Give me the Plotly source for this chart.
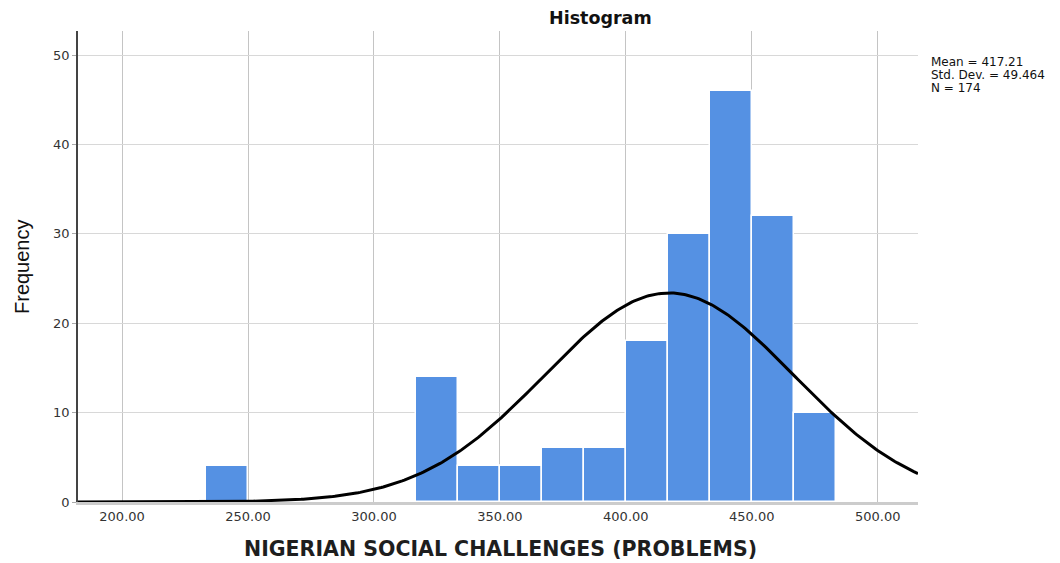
import numpy as np
import plotly.graph_objects as go

# Data
bin_width = 16.6667
bin_centers = [241.67, 325.00, 341.67, 358.33, 375.00, 391.67, 408.33, 425.00, 441.67, 458.33, 475.00]
counts = [4, 14, 4, 4, 6, 6, 18, 30, 46, 32, 10]
mean_val = 417.21
std_val = 49.464
n_val = 174
x_ticks = [200, 250, 300, 350, 400, 450, 500]
x_tick_labels = ["200.00", "250.00", "300.00", "350.00", "400.00", "450.00", "500.00"]
y_ticks = [0, 10, 20, 30, 40, 50]
stats_lines = ["Mean = 417.21", "Std. Dev. = 49.464", "N = 174"]

x_range = [182.5, 516.0]

xs = np.linspace(x_range[0], x_range[1], 400)
ys = n_val * bin_width * np.exp(-0.5 * ((xs - mean_val) / std_val) ** 2) / (std_val * np.sqrt(2 * np.pi))

ML, MR, MT, MB = 78, 142, 31, 61
W, H = 1060, 563
plot_w = W - ML - MR
plot_h = H - MT - MB

def px_x(px):
    return (px - ML) / plot_w

def px_y(py):
    return (H - MB - py) / plot_h

fig = go.Figure()
fig.add_trace(go.Bar(
    x=bin_centers, y=counts, width=[bin_width] * len(bin_centers),
    marker=dict(color="#5591e3", line=dict(color="white", width=1.5)),
    showlegend=False, hoverinfo="skip",
))
fig.add_trace(go.Scatter(
    x=xs, y=ys, mode="lines", line=dict(color="black", width=3),
    showlegend=False, hoverinfo="skip",
))

annotations = [
    dict(text="<b>Histogram</b>", x=px_x(600), y=px_y(18), xref="paper", yref="paper",
         xanchor="center", yanchor="middle", showarrow=False,
         font=dict(family="DejaVu Sans", size=17.5, color="#111111")),
    dict(text="Frequency", x=px_x(22), y=px_y(267), xref="paper", yref="paper",
         xanchor="center", yanchor="middle", showarrow=False, textangle=-90,
         font=dict(family="Liberation Sans, Arial", size=20, color="#111111")),
    dict(text="<b>NIGERIAN SOCIAL CHALLENGES (PROBLEMS)</b>", x=px_x(500), y=px_y(549),
         xref="paper", yref="paper", xanchor="center", yanchor="middle", showarrow=False,
         font=dict(family="DejaVu Sans", size=20.5, color="#1e1e1e")),
]
for i, line in enumerate(stats_lines):
    annotations.append(dict(
        text=line, x=px_x(929), y=px_y(62 + 13 * i), xref="paper", yref="paper",
        xanchor="left", yanchor="middle", showarrow=False,
        font=dict(family="DejaVu Sans", size=12, color="#111111")))

fig.update_layout(
    width=W, height=H,
    margin=dict(l=ML, r=MR, t=MT, b=MB),
    plot_bgcolor="white", paper_bgcolor="white",
    font=dict(family="DejaVu Sans", color="#333333"),
    bargap=0,
    xaxis=dict(
        range=x_range, tickvals=x_ticks, ticktext=x_tick_labels,
        showgrid=True, gridcolor="#c4c4c4", gridwidth=1,
        showline=True, linecolor="#cccccc", linewidth=3,
        ticks="", tickfont=dict(family="DejaVu Sans", size=13, color="#333333"),
        zeroline=False,
    ),
    yaxis=dict(
        range=[0, 52.7], tickvals=y_ticks,
        showgrid=True, gridcolor="#d8d8d8", gridwidth=1,
        showline=True, linecolor="#444444", linewidth=1.5,
        ticks="outside", ticklen=4, tickcolor="#aaaaaa",
        tickfont=dict(family="DejaVu Sans", size=13, color="#333333"),
        zeroline=False,
    ),
    annotations=annotations,
)

fig.write_html("out.html")
